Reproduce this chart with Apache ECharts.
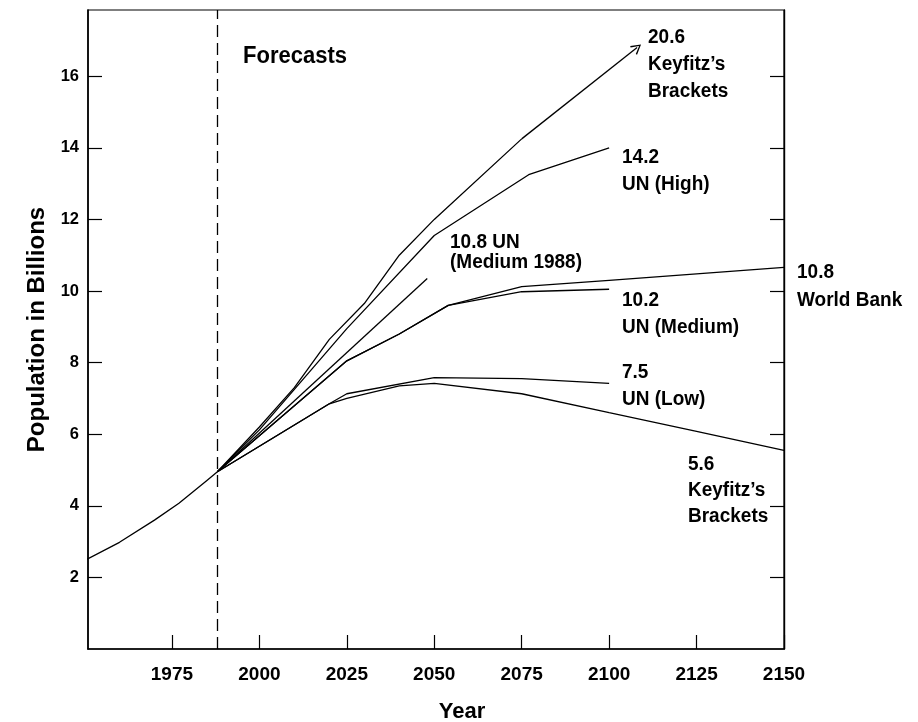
<!DOCTYPE html>
<html><head><meta charset="utf-8">
<script src="https://cdn.jsdelivr.net/npm/echarts@6/dist/echarts.min.js"></script>
<style>html,body{margin:0;padding:0;background:#fff}#c{width:918px;height:722px}</style>
</head><body><div id="c"></div>
<script>
// ---- data ----
const xTicks = [1975, 2000, 2025, 2050, 2075, 2100, 2125, 2150];
const yTicks = [2, 4, 6, 8, 10, 12, 14, 16];
const forecastStart = 1988;

const histYears  = [1950, 1960, 1970, 1977, 1985, 1988];
const histValues = [2.47, 2.98, 3.6, 4.07, 4.71, 4.95];

const keyHighYears  = [1988, 2000, 2010, 2020, 2030, 2040, 2050, 2075];
const keyHighValues = [4.95, 6.2, 7.3, 8.65, 9.65, 11.0, 12.0, 14.25];
const keyHighArrowYears  = [2075, 2108];
const keyHighArrowValues = [14.25, 16.8];

const unHighYears  = [1988, 2000, 2025, 2050, 2077, 2100];
const unHighValues = [4.95, 6.12, 8.95, 11.55, 13.25, 14.0];

const unMed88Years  = [1988, 2048];
const unMed88Values = [4.95, 10.35];

const unMedYears  = [1988, 2025, 2040, 2054, 2075, 2100];
const unMedValues = [4.95, 8.05, 8.8, 9.6, 9.98, 10.05];

const wbYears  = [1988, 2025, 2040, 2054, 2075, 2100, 2150];
const wbValues = [4.95, 8.05, 8.8, 9.6, 10.12, 10.3, 10.66];

const unLowYears  = [1988, 2020, 2025, 2050, 2075, 2100];
const unLowValues = [4.95, 6.85, 7.13, 7.58, 7.55, 7.42];

const keyLowYears  = [1988, 2020, 2025, 2040, 2050, 2075, 2100, 2125, 2150];
const keyLowValues = [4.95, 6.85, 7.0, 7.35, 7.42, 7.13, 6.6, 6.08, 5.55];

// annotation texts: [text, left x, cap-centre y]
const labelLines = [
  ['20.6', 648, 37], ["Keyfitz\u2019s", 648, 64], ['Brackets', 648, 91.5],
  ['14.2', 622, 157], ['UN (High)', 622, 184],
  ['10.8 UN', 450, 242.5], ['(Medium 1988)', 450, 262.5],
  ['10.8', 797, 272.5], ['World Bank', 797, 300.5],
  ['10.2', 622, 300.5], ['UN (Medium)', 622, 327.5],
  ['7.5', 622, 372.5], ['UN (Low)', 622, 399.5],
  ['5.6', 688, 464.5], ["Keyfitz\u2019s", 688, 490], ['Brackets', 688, 516]
];
const forecastsLabel = ['Forecasts', 243, 56];

const FAM = '"Liberation Sans", Arial, Helvetica, sans-serif';

function zip(xs, ys){ return xs.map((x, i) => [x, ys[i]]); }
const lineStyle = { color: '#000', width: 1.3 };
function mkSeries(name, xs, ys, extra){
  return Object.assign({
    name, type: 'line', data: zip(xs, ys), symbol: 'none', smooth: false,
    lineStyle, silent: true, z: 3
  }, extra || {});
}
function txt(t, x, y, size, sy){
  return {
    type: 'text', x, y, scaleY: sy, z: 10,
    style: { text: t, fill: '#000', fontSize: size, fontWeight: 'bold', fontFamily: FAM, align: 'left', verticalAlign: 'middle' }
  };
}
const graphics = labelLines.map(([t, x, y]) => txt(t, x, y, 19, 1.1));
graphics.push(txt(forecastsLabel[0], forecastsLabel[1], forecastsLabel[2], 22, 1.08));

const chart = echarts.init(document.getElementById('c'), null, { renderer: 'canvas' });
const axisFont = { color: '#000', fontWeight: 'bold', fontFamily: FAM };
chart.setOption({
  backgroundColor: '#fff',
  animation: false,
  grid: { left: 88, right: 134, top: 10, bottom: 73, show: true, borderColor: '#000', borderWidth: 1.2, outerBoundsMode: 'none' },
  xAxis: {
    type: 'value', min: 1951, max: 2150,
    axisLine: { show: true, onZero: false, lineStyle: { color: '#000', width: 1.6 } },
    axisTick: { show: true, inside: true, length: 14, lineStyle: { color: '#000', width: 1.2 }, customValues: xTicks },
    axisLabel: Object.assign({ customValues: xTicks, formatter: v => String(v), margin: 16, fontSize: 19 }, axisFont),
    splitLine: { show: false },
    name: 'Year', nameLocation: 'middle', nameGap: 52,
    nameTextStyle: Object.assign({ fontSize: 22, padding: [0, 0, 0, 52] }, axisFont)
  },
  yAxis: [{
    type: 'value', min: 0, max: 17.85, position: 'left',
    axisLine: { show: true, onZero: false, lineStyle: { color: '#000', width: 1.6 } },
    axisTick: { show: true, inside: true, length: 14, lineStyle: { color: '#000', width: 1.2 }, customValues: yTicks },
    axisLabel: Object.assign({ customValues: yTicks, margin: 9, fontSize: 16.5 }, axisFont),
    splitLine: { show: false },
    name: 'Population in Billions', nameLocation: 'middle', nameRotate: 90, nameGap: 35,
    nameTextStyle: Object.assign({ fontSize: 24 }, axisFont)
  }, {
    type: 'value', min: 0, max: 17.85, position: 'right',
    axisLine: { show: true, onZero: false, lineStyle: { color: '#000', width: 1.4 } },
    axisTick: { show: true, inside: true, length: 14, lineStyle: { color: '#000', width: 1.2 }, customValues: yTicks },
    axisLabel: { show: false },
    splitLine: { show: false }
  }],
  graphic: graphics,
  series: [
    mkSeries('Historical', histYears, histValues, {
      markLine: {
        silent: true, symbol: 'none', label: { show: false },
        lineStyle: { type: [12, 6], color: '#000', width: 1.3 },
        data: [{ xAxis: forecastStart }]
      }
    }),
    mkSeries("Keyfitz's high", keyHighYears, keyHighValues, {
      markLine: {
        silent: true, symbol: ['none', 'path://M0,10 L5,0 L10,10 L8.8,10.6 L5,2.6 L1.2,10.6 Z'],
        symbolSize: [11, 10], label: { show: false },
        lineStyle: { type: 'solid', color: '#000', width: 1.3 },
        data: [[{ coord: [keyHighArrowYears[0], keyHighArrowValues[0]] }, { coord: [keyHighArrowYears[1], keyHighArrowValues[1]] }]]
      }
    }),
    mkSeries('UN (High)', unHighYears, unHighValues),
    mkSeries('UN (Medium 1988)', unMed88Years, unMed88Values),
    mkSeries('UN (Medium)', unMedYears, unMedValues),
    mkSeries('World Bank', wbYears, wbValues),
    mkSeries('UN (Low)', unLowYears, unLowValues),
    mkSeries("Keyfitz's low", keyLowYears, keyLowValues)
  ]
});
</script>
</body></html>
